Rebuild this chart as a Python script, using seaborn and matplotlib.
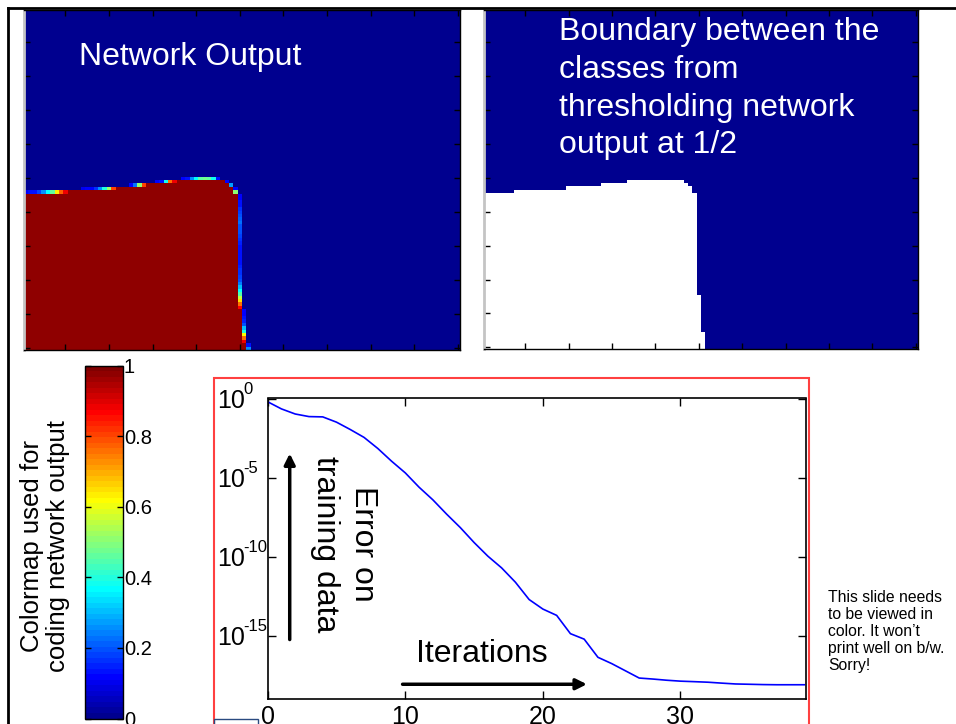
import numpy as np
import matplotlib.pyplot as plt
import seaborn as sns
from matplotlib.colors import ListedColormap
from matplotlib.patches import Rectangle
from matplotlib.lines import Line2D
from matplotlib.ticker import NullLocator

plt.rcParams['font.family'] = ['Liberation Sans', 'DejaVu Sans']

# network output image, 100 x 100 cells, rows counted from the top
n_rows, n_cols = 100, 100
inside_value = 0.975

# top edge of the class-1 region: first row per column range
top_col_start = [0, 10, 21, 28, 35]
top_col_end = [9, 20, 27, 34, 45]
top_first_row = [54, 53, 52, 51, 50]

# right edge of the class-1 region: last column per row range
right_row_start = [50, 51, 52, 54, 88, 98]
right_row_end = [50, 51, 53, 87, 97, 99]
right_last_col = [45, 46, 47, 48, 49, 50]

# soft outputs in the cells just above the top edge (columns 0..45)
top_fringe = [0.12, 0.13, 0.14, 0.18, 0.26, 0.36, 0.46, 0.63, 0.78, 0.88,
              0.0, 0.0, 0.0, 0.10, 0.12, 0.12, 0.16, 0.26, 0.40, 0.52, 0.80,
              0.0, 0.0, 0.0, 0.12, 0.22, 0.50, 0.80,
              0.0, 0.0, 0.12, 0.13, 0.38, 0.75, 0.88,
              0.0, 0.12, 0.14, 0.25, 0.36, 0.46, 0.48, 0.46, 0.38, 0.14, 0.0]
# soft outputs in the cells just right of the right edge (rows 50..99)
right_fringe = [0.12, 0.28, 0.12, 0.50,
                0.12, 0.12, 0.13, 0.14, 0.16, 0.18,
                0.20, 0.21, 0.22, 0.20, 0.20, 0.19, 0.18, 0.17,
                0.15, 0.14, 0.14, 0.13, 0.13, 0.13, 0.14, 0.15, 0.16, 0.17, 0.18,
                0.20, 0.24, 0.30, 0.36, 0.45, 0.55, 0.65, 0.75, 0.86,
                0.12, 0.12, 0.13, 0.15, 0.20, 0.30, 0.40, 0.62, 0.75, 0.88,
                0.13, 0.25]

# training error per iteration
iterations = list(range(40))
train_error = [0.62, 0.22, 0.105, 0.072, 0.069, 0.032, 0.011, 3.5e-3, 7e-4, 1.1e-4,
               2e-5, 2.5e-6, 4e-7, 5e-8, 7e-9, 8e-10, 1.1e-10, 2e-11, 2.5e-12, 2e-13,
               5e-14, 2e-14, 1.4e-15, 6.3e-16, 4.5e-17, 1.8e-17, 6.3e-18, 2.2e-18, 1.9e-18, 1.6e-18,
               1.4e-18, 1.3e-18, 1.2e-18, 1.05e-18, 9.3e-19, 8.9e-19, 8.5e-19, 8.3e-19, 8.3e-19, 8.3e-19]

cbar_ticks = [0, 0.2, 0.4, 0.6, 0.8, 1]
cbar_labels = ['0', '0.2', '0.4', '0.6', '0.8', '1']
err_ticks = [1e-15, 1e-10, 1e-5, 1]
err_exponents = ['-15', '-10', '-5', '0']

# build the output grid from the edges
top_row = np.full(n_cols, top_first_row[-1])
for s, e, r in zip(top_col_start, top_col_end, top_first_row):
    top_row[s:e + 1] = r
last_col = np.full(n_rows, -1)
for s, e, c in zip(right_row_start, right_row_end, right_last_col):
    last_col[s:e + 1] = c
output = np.zeros((n_rows, n_cols))
for r in range(n_rows):
    for c in range(n_cols):
        if r >= top_row[c] and c <= last_col[r]:
            output[r, c] = inside_value
for c, v in enumerate(top_fringe):
    output[top_row[c] - 1, c] = v
for i, v in enumerate(right_fringe):
    r = 50 + i
    output[r, last_col[r] + 1] = v

# matlab style jet, 64 levels
u = np.r_[np.arange(1, 17) / 16, np.ones(15), np.arange(16, 0, -1) / 16]
g = 8 + np.arange(1, 48)
jet = np.zeros((64, 3))
for ch, idx in enumerate([g + 16, g, g - 16]):
    ok = (idx >= 1) & (idx <= 64)
    jet[idx[ok] - 1, ch] = u[ok]
jet_cmap = ListedColormap(jet)
navy = jet[0]

W, H = 956, 724
fig = plt.figure(figsize=(W / 100, H / 100), dpi=100)


def box(l, t, r, b):
    return [l / W, 1 - b / H, (r - l) / W, (b - t) / H]


ax1 = fig.add_axes(box(24, 10, 460, 350))
ax2 = fig.add_axes(box(484, 10, 918, 349))
cax = fig.add_axes(box(84.5, 365.5, 122.5, 718.5))
ax3 = fig.add_axes(box(267.7, 398.5, 805.7, 699.3))

sns.heatmap(output, ax=ax1, cmap=jet_cmap, vmin=0, vmax=1, cbar_ax=cax,
            cbar_kws={'ticks': cbar_ticks}, xticklabels=False, yticklabels=False)
sns.heatmap((output > 0.5).astype(int), ax=ax2, cmap=ListedColormap([navy, 'white']),
            vmin=0, vmax=1, cbar=False, xticklabels=False, yticklabels=False)

for ax in (ax1, ax2):
    ax.set_xticks(np.arange(9.5, 100, 10))
    ax.set_yticks(np.arange(9.5, 100, 10))
    ax.tick_params(direction='in', length=4, width=1, color='black', top=True, right=True,
                   labelbottom=False, labelleft=False)
    for sp in ax.spines.values():
        sp.set_visible(True)
        sp.set_color('black')
        sp.set_linewidth(1)
    ax.spines['left'].set_color('#c4c4c4')
    ax.spines['left'].set_linewidth(2)

cb = ax1.collections[0].colorbar
cb.outline.set_linewidth(1)
cb.outline.set_edgecolor('black')
cb.set_ticks(cbar_ticks)
cb.set_ticklabels(cbar_labels)
cax.tick_params(direction='in', length=4, width=1, left=True, right=True, labelsize=14.5, pad=1)

fig.text(79 / W, 1 - 65 / H, 'Network Output', color='white', fontsize=23, va='baseline')
fig.text(559 / W, 1 - 17 / H, 'Boundary between the\nclasses from\nthresholding network\noutput at 1/2',
         color='white', fontsize=23, va='top', ha='left', linespacing=1.34)
fig.text(45 / W, 1 - 546 / H, 'Colormap used for\ncoding network output', rotation=90,
         fontsize=18.5, ha='center', va='center', multialignment='center', linespacing=1.15)
fig.text(828 / W, 1 - 590 / H, 'This slide needs\nto be viewed in\ncolor. It won\u2019t\nprint well on b/w.\nSorry!',
         fontsize=11.3, va='top', ha='left', linespacing=1.16)

# error curve
sns.lineplot(x=iterations, y=train_error, ax=ax3, color='blue', linewidth=1.2)
ax3.set_yscale('log')
ax3.set_ylim(1e-19, 1)
ax3.set_xlim(0, 39.1)
ax3.set_yticks(err_ticks)
ax3.set_yticklabels(['10'] * len(err_ticks))
ax3.yaxis.set_minor_locator(NullLocator())
ax3.set_xticks([0, 10, 20, 30])
ax3.set_xlabel('')
ax3.set_ylabel('')
ax3.tick_params(axis='both', direction='in', length=6, width=1, top=True, right=True, labelsize=18)
ax3.tick_params(axis='y', pad=36.5)
ax3.tick_params(axis='x', pad=4)
for lab in ax3.get_yticklabels():
    lab.set_horizontalalignment('left')
# exponents of the log tick labels, matlab style
for t, ex in zip(err_ticks, err_exponents):
    ax3.annotate(ex, xy=(-0.0455, t), xycoords=ax3.get_yaxis_transform(), xytext=(0, 6.5),
                 textcoords='offset points', fontsize=12, ha='left', va='center')
for sp in ax3.spines.values():
    sp.set_color('black')
    sp.set_linewidth(1.2)

ax3.annotate('', xy=(1.6, 10 ** -3.3), xytext=(1.6, 10 ** -15.4),
             arrowprops=dict(arrowstyle='-|>', color='black', lw=2.5, mutation_scale=16))
ax3.annotate('', xy=(23.4, 10 ** -18.05), xytext=(9.6, 10 ** -18.05),
             arrowprops=dict(arrowstyle='-|>', color='black', lw=2.5, mutation_scale=16))
ax3.text(0.142, 0.516, 'Error on\ntraining data', transform=ax3.transAxes, rotation=-90,
         fontsize=23, ha='center', va='center', multialignment='center', linespacing=1.35)
ax3.text(0.398, 0.152, 'Iterations', transform=ax3.transAxes, fontsize=23, ha='center', va='center')

# slide frame and boxes
fig.add_artist(Line2D([8 / W, 1], [1 - 8 / H, 1 - 8 / H], color='black', lw=2, transform=fig.transFigure))
fig.add_artist(Line2D([8 / W, 8 / W], [0, 1 - 8 / H], color='black', lw=2, transform=fig.transFigure))
fig.add_artist(Rectangle((214 / W, -0.01), (809 - 214) / W, (H - 377.7) / H + 0.01, fill=False,
                         edgecolor='#ff4040', lw=1.5, transform=fig.transFigure))
fig.add_artist(Rectangle((214 / W, -0.01), 44 / W, (H - 719) / H + 0.01, fill=False,
                         edgecolor='#2a4a80', lw=1, transform=fig.transFigure))

fig.savefig('out.png', dpi=100)
